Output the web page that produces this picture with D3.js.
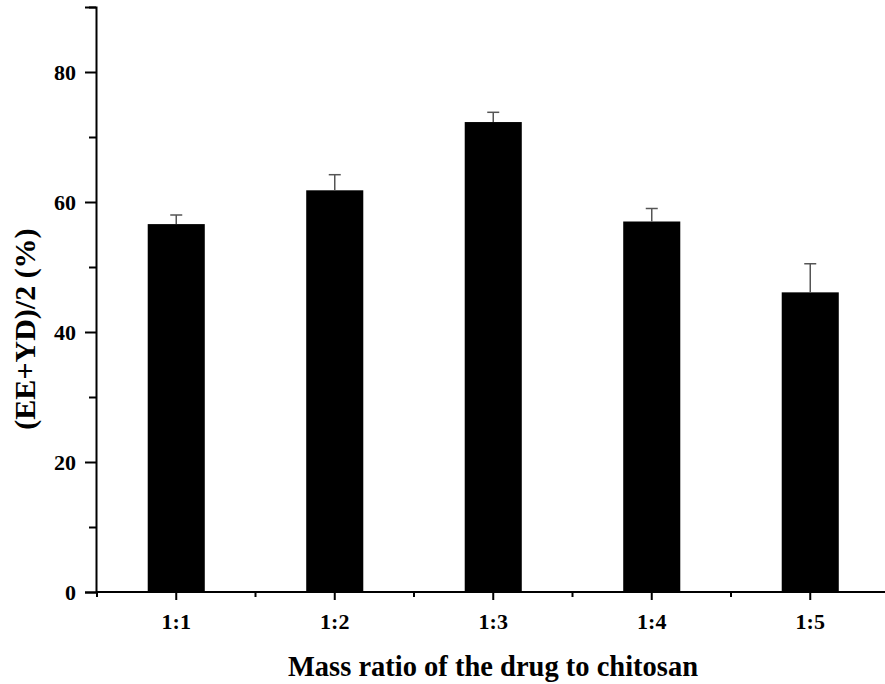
<!DOCTYPE html>
<html>
<head>
<meta charset="utf-8">
<script src="https://cdn.jsdelivr.net/npm/d3@7"></script>
<style>
  body { margin: 0; background: #fff; }
  text { font-family: "Liberation Serif", "Times New Roman", serif; font-weight: bold; }
</style>
</head>
<body>
<div id="chart"></div>
<script>
let ratios = ['1:1', '1:2', '1:3', '1:4', '1:5'];
let means = [56.6, 61.8, 72.3, 57.0, 46.1];
let errors = [1.4, 2.4, 1.5, 2.0, 4.4];
let yTicks = [0, 20, 40, 60, 80];
let yMinor = [10, 30, 50, 70, 90];

let width = 885;
let height = 684;
let margin = { left: 96, top: 7, bottom: 92 };

let svg = d3.select('#chart').append('svg')
  .attr('width', width)
  .attr('height', height);

let y = d3.scaleLinear()
  .domain([0, 90])
  .range([height - margin.bottom, margin.top]);

let x = d3.scaleBand()
  .domain(ratios)
  .range([margin.left + 1, margin.left + 1 + 5 * 158.5])
  .paddingInner(0.64)
  .paddingOuter(0.32);

let y0 = y(0);

// bars
svg.append('g')
  .selectAll('rect')
  .data(means)
  .enter()
  .append('rect')
  .attr('x', (d, i) => x(ratios[i]))
  .attr('width', x.bandwidth())
  .attr('y', d => y(d))
  .attr('height', d => y0 - y(d))
  .style('fill', '#000');

// upper error bars
let err = svg.append('g').style('stroke', '#555').style('stroke-width', 1.5);
means.forEach((m, i) => {
  let cx = x(ratios[i]) + x.bandwidth() / 2;
  err.append('line')
    .attr('x1', cx).attr('x2', cx)
    .attr('y1', y(m)).attr('y2', y(m + errors[i]));
  err.append('line')
    .attr('x1', cx - 6).attr('x2', cx + 6)
    .attr('y1', y(m + errors[i])).attr('y2', y(m + errors[i]));
});

// y axis
svg.append('g')
  .attr('transform', `translate(${margin.left},0)`)
  .call(d3.axisLeft(y).tickValues(yTicks).tickSize(11).tickPadding(9));
svg.append('g')
  .attr('transform', `translate(${margin.left},0)`)
  .call(d3.axisLeft(y).tickValues(yMinor).tickSize(7).tickFormat(''))
  .call(g => g.select('.domain').remove());

// x axis
let xAxis = svg.append('g')
  .attr('transform', `translate(0,${y0})`)
  .call(d3.axisBottom(x).tickSize(8).tickPadding(13));
xAxis.select('.domain').attr('d', `M${margin.left},0H${width}`);

let step = x.step();
let minorX = d3.range(6).map(i => x(ratios[0]) + x.bandwidth() / 2 - step / 2 + i * step);
svg.append('g')
  .selectAll('line')
  .data(minorX)
  .enter()
  .append('line')
  .attr('x1', d => d).attr('x2', d => d)
  .attr('y1', y0).attr('y2', y0 + 5)
  .style('stroke', '#000')
  .style('stroke-width', 2);

svg.selectAll('.domain, .tick line')
  .style('stroke', '#000')
  .style('stroke-width', 2);
svg.selectAll('.tick text')
  .style('font-size', '22px')
  .style('fill', '#000');

// titles
svg.append('text')
  .attr('x', 493)
  .attr('y', 676)
  .attr('text-anchor', 'middle')
  .style('font-size', '28.5px')
  .text('Mass ratio of the drug to chitosan');

svg.append('text')
  .attr('transform', `translate(35,329) rotate(-90)`)
  .attr('text-anchor', 'middle')
  .style('font-size', '30px')
  .text('(EE+YD)/2 (%)');
</script>
</body>
</html>
